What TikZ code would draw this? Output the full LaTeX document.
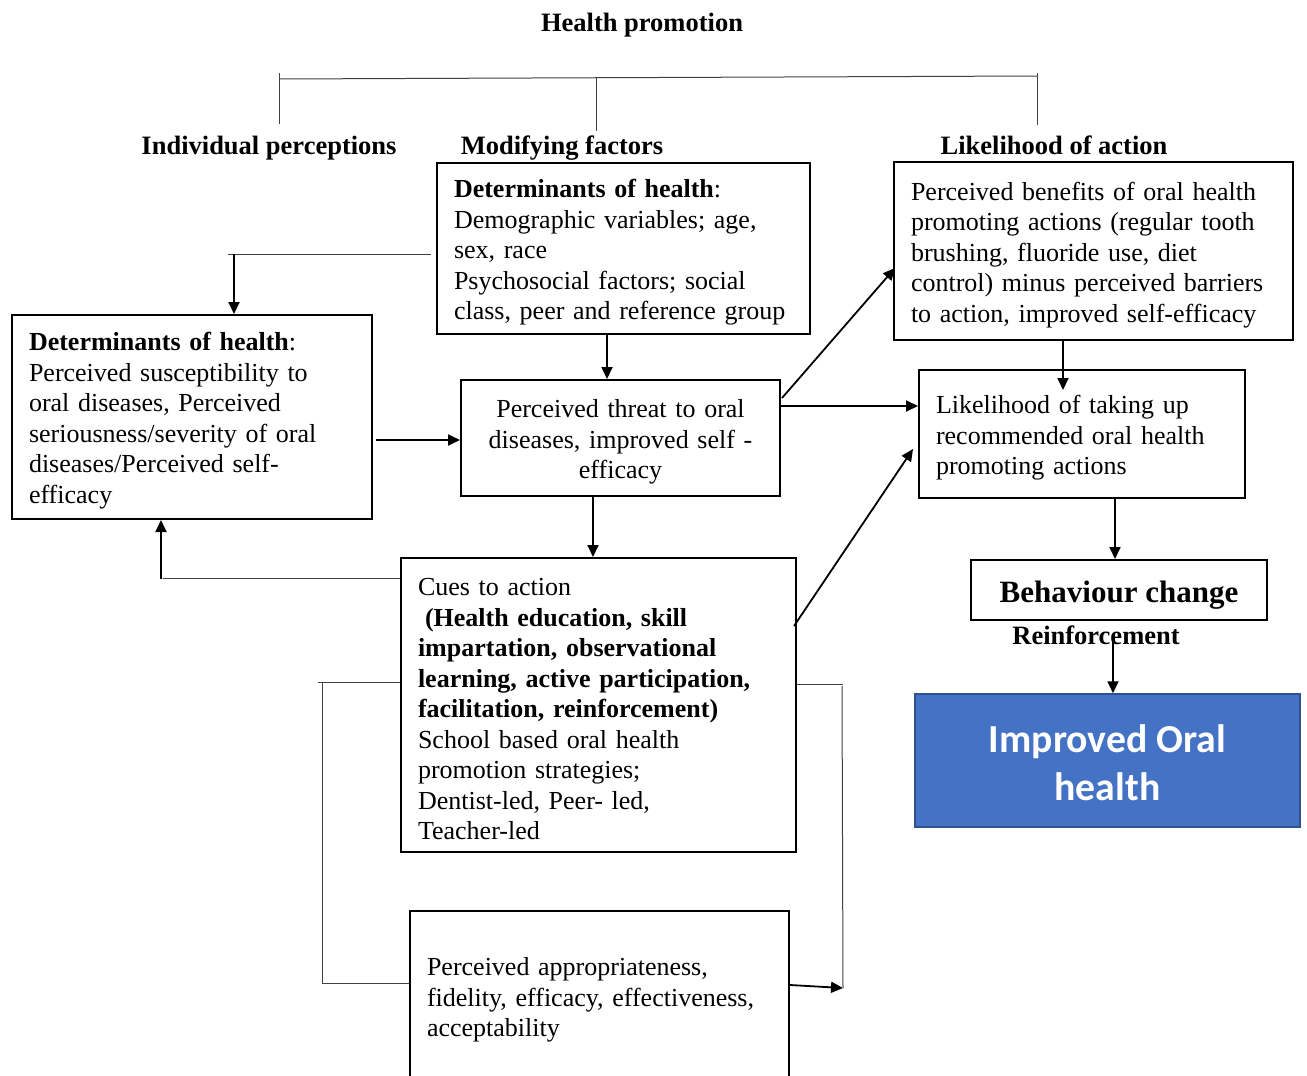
\documentclass[tikz,border=0pt]{standalone}
\usepackage{fontspec}
\setmainfont{Liberation Serif}
\newfontfamily\calibri{Carlito}
\usetikzlibrary{arrows.meta}
\definecolor{oralblue}{HTML}{4472C4}
\definecolor{oraledge}{HTML}{2F528F}
% extra room above the first line of a box text
\newcommand\boxtopstrut{\rule{0pt}{26pt}}

\begin{document}
\begin{tikzpicture}[x=1pt,y=-1pt,
  every node/.style={font=\fontsize{26}{30.5}\selectfont, inner sep=0pt},
  box/.style={draw, rectangle, line width=2pt, inner xsep=17pt, inner ysep=0pt, align=left},
  heading/.style={font=\fontsize{26.5}{30.5}\selectfont\bfseries, anchor=base},
  arr/.style={line width=1.8pt, -{Triangle[length=12pt,width=11pt]}},
  thinline/.style={line width=1pt, black!75},
]
\useasboundingbox (0,0) rectangle (1307,1076);

% headings
\node[heading] (title) at (642,31) {Health promotion};
\node[heading] (ip) at (269,154) {Individual perceptions};
\node[heading] (mf) at (562,154) {Modifying factors};
\node[heading] (la) at (1054,154) {Likelihood of action};

% bracket under the title
\coordinate (bl) at (279,79);
\coordinate (bm) at (596,78);
\coordinate (br) at (1037,76);
\draw[thinline] (bl) -- (br);
\draw[thinline] (279,73) -- (279,124);
\draw[thinline] (bm) -- (596,131);
\draw[thinline] (1037,73) -- (1037,125);

% boxes
\node[box, text width=339pt, minimum height=171pt] (A) at (623.5,248.5)
  {\boxtopstrut\textbf{Determinants of health}:\\
   Demographic variables; age,\\
   sex, race\\
   Psychosocial factors; social\\
   class, peer and reference group};

\node[box, text width=326pt, minimum height=204pt] (B) at (192,417)
  {\boxtopstrut\textbf{Determinants of health}:\\
   Perceived susceptibility to\\
   oral diseases, Perceived\\
   seriousness/severity of oral\\
   diseases/Perceived self-\\
   efficacy};

\node[box, text width=285pt, minimum height=116pt, align=center] (C) at (620.5,438)
  {\boxtopstrut Perceived threat to oral\\
   diseases, improved self -\\
   efficacy};

\node[box, text width=365pt, minimum height=178pt] (D) at (1093.5,251)
  {\boxtopstrut Perceived benefits of oral health\\
   promoting actions (regular tooth\\
   brushing, fluoride use, diet\\
   control) minus perceived barriers\\
   to action, improved self-efficacy};

\node[box, text width=292pt, minimum height=128pt] (E) at (1082,434)
  {\boxtopstrut Likelihood of taking up\\
   recommended oral health\\
   promoting actions};

\node[box, minimum width=296pt, minimum height=60pt, align=center,
      text height=31pt, text depth=6.8pt,
      font=\fontsize{31}{35}\selectfont\bfseries] (F) at (1119,590)
  {Behaviour change};

\node[heading] (reinf) at (1096,644) {Reinforcement};

\node[rectangle, draw=oraledge, fill=oralblue, line width=1.5pt,
      minimum width=385pt, minimum height=133pt, align=center, text=white,
      font=\calibri\fontsize{39.7}{48}\selectfont\bfseries] (G) at (1107.5,760.5)
  {\rule{0pt}{32pt}Improved Oral\\ health};

\node[box, text width=361pt, minimum height=294pt] (H) at (598.5,705)
  {\boxtopstrut Cues to action\\
   \hspace*{7pt}\textbf{(Health education, skill}\\
   \textbf{impartation, observational}\\
   \textbf{learning, active participation,}\\
   \textbf{facilitation, reinforcement)}\\
   School based oral health\\
   promotion strategies;\\
   Dentist-led, Peer- led,\\
   Teacher-led};

\node[box, text width=345pt, minimum height=170pt] (I) at (599.5,996)
  {\boxtopstrut Perceived appropriateness,\\
   fidelity, efficacy, effectiveness,\\
   acceptability};

% connectors
\coordinate (ab) at (228,254);
\coordinate (abd) at (234,254);
\draw[thinline, shorten <=5pt] (A.west |- ab) -- (ab);
\draw[arr] (abd) -- (abd |- B.north);

\coordinate (bc) at (0,440);
\draw[arr, shorten <=3pt] (B.east |- bc) -- (C.west |- bc);

\coordinate (xac) at (607,0);
\draw[arr] (A.south -| xac) -- (C.north -| xac);

\coordinate (xch) at (593,0);
\draw[arr] (C.south -| xch) -- (H.north -| xch);

\coordinate (hb) at (163,578);
\coordinate (hbu) at (161,579);
\draw[thinline] (H.west |- hb) -- (hb);
\draw[arr] (hbu) -- (hbu |- B.south);

\coordinate (cd1) at (0,398);
\coordinate (cd2) at (0,268);
\draw[arr] ([xshift=1pt]C.east |- cd1) -- ([xshift=2pt]D.west |- cd2);

\coordinate (ce) at (0,406);
\draw[arr] (C.east |- ce) -- (E.west |- ce);

\coordinate (he1) at (0,626);
\coordinate (he2) at (0,449);
\draw[arr] ([xshift=-3pt]H.east |- he1) -- ([xshift=-5pt]E.west |- he2);

\coordinate (de) at (1063,390);
\draw[arr] (D.south -| de) -- (de);

\coordinate (xef) at (1115,0);
\draw[arr] (E.south -| xef) -- (F.north -| xef);

\coordinate (xrg) at (1113,0);
\draw[arr] ([yshift=6pt]reinf.base -| xrg) -- (G.north -| xrg);

% side links between the cues box and the evaluation box
\coordinate (hl) at (318,682);
\coordinate (hlv) at (322,682);
\coordinate (hlb) at (322,983);
\draw[thinline] (H.west |- hl) -- (hl);
\draw[thinline] (hlv) -- (hlb) -- (I.west |- hlb);

\coordinate (hr) at (843,684);
\coordinate (hrv) at (842,686);
\coordinate (hrb) at (843,988);
\draw[thinline] (H.east |- hr) -- (hr);
\draw[thinline] (hrv) -- (hrb);
\draw[arr] (I.east |- 0,985) -- (hrb);
\end{tikzpicture}
\end{document}
